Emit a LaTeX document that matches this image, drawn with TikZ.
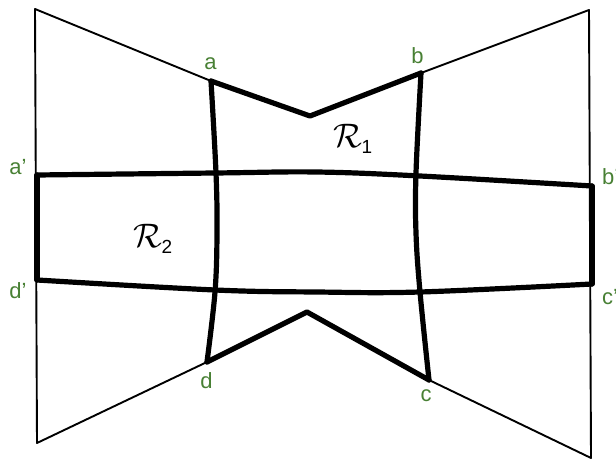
\documentclass[tikz,border=0pt]{standalone}
\usepackage{fontspec}
\setmainfont{Liberation Sans}
\definecolor{lblgreen}{RGB}{72,128,52}
\newcommand{\regname}[1]{\scalebox{3.4}{$\mathcal{R}$}\hspace{-1pt}\raisebox{-6pt}{\fontsize{19}{21}\selectfont #1}}
\begin{document}
\begin{tikzpicture}[x=1pt,y=-1pt,
  thin line/.style={line width=1.9pt,line cap=round,line join=round},
  thick line/.style={line width=5.2pt,line cap=round,line join=round},
  lbl/.style={text=lblgreen,font=\fontsize{22}{24}\selectfont,inner sep=0pt},
  reg/.style={inner sep=0pt}]
\useasboundingbox (0,0) rectangle (616,462);
% corner and key points
\coordinate (TL) at (35,9);
\coordinate (TR) at (589,10);
\coordinate (BL) at (37,443);
\coordinate (BR) at (591,458);
\coordinate (a) at (211,81);
\coordinate (b) at (421,73);
\coordinate (c) at (429,380);
\coordinate (d) at (207,362);
\coordinate (ap) at (37,175);
\coordinate (bp) at (592,186);
\coordinate (cp) at (592,284);
\coordinate (dp) at (37,280);
\coordinate (vt) at (310,116);
\coordinate (vb) at (307,312);
% curve helpers
\coordinate (t1) at (215,173);
\coordinate (t2) at (316,172);
\coordinate (t3) at (420,176);
\coordinate (u1) at (215,290);
\coordinate (u2) at (316,292);
\coordinate (u3) at (420,292);
\coordinate (l1) at (216,173);
\coordinate (l2) at (217,233);
\coordinate (l3) at (215,292);
\coordinate (r1) at (416,173);
\coordinate (r2) at (416,233);
\coordinate (r3) at (420,292);
% thin outline
\draw[thin line] (TL) -- (a);
\draw[thin line] (b) -- (TR) -- (BR) -- (c);
\draw[thin line] (d) -- (BL) -- (TL);
% thick parts
\draw[thick line] (a) -- (vt) -- (b);
\draw[thick line] (d) -- (vb) -- (c);
\draw[thick line] (bp) -- (cp);
\draw[thick line] (ap) -- (dp);
\draw[thick line] plot[smooth,tension=0.6] coordinates {(ap) (t1) (t2) (t3) (bp)};
\draw[thick line] plot[smooth,tension=0.6] coordinates {(dp) (u1) (u2) (u3) (cp)};
\draw[thick line] plot[smooth,tension=0.6] coordinates {(a) (l1) (l2) (l3) (d)};
\draw[thick line] plot[smooth,tension=0.6] coordinates {(b) (r1) (r2) (r3) (c)};
% labels
\node[lbl] (la) at (210.5,64) {a};
\node[lbl] (lb) at (417.5,56) {b};
\node[lbl] (lc) at (426,396) {c};
\node[lbl] (ld) at (206.5,381) {d};
\node[lbl] (lap) at (18,167) {a’};
\node[lbl] (ldp) at (18,291) {d’};
\node[lbl,anchor=west] (lbp) at (602,177) {b’};
\node[lbl,anchor=west] (lcp) at (602,297) {c’};
\node[reg] (R1) at (353,139) {\regname{1}};
\node[reg] (R2) at (153,239) {\regname{2}};
\end{tikzpicture}
\end{document}
